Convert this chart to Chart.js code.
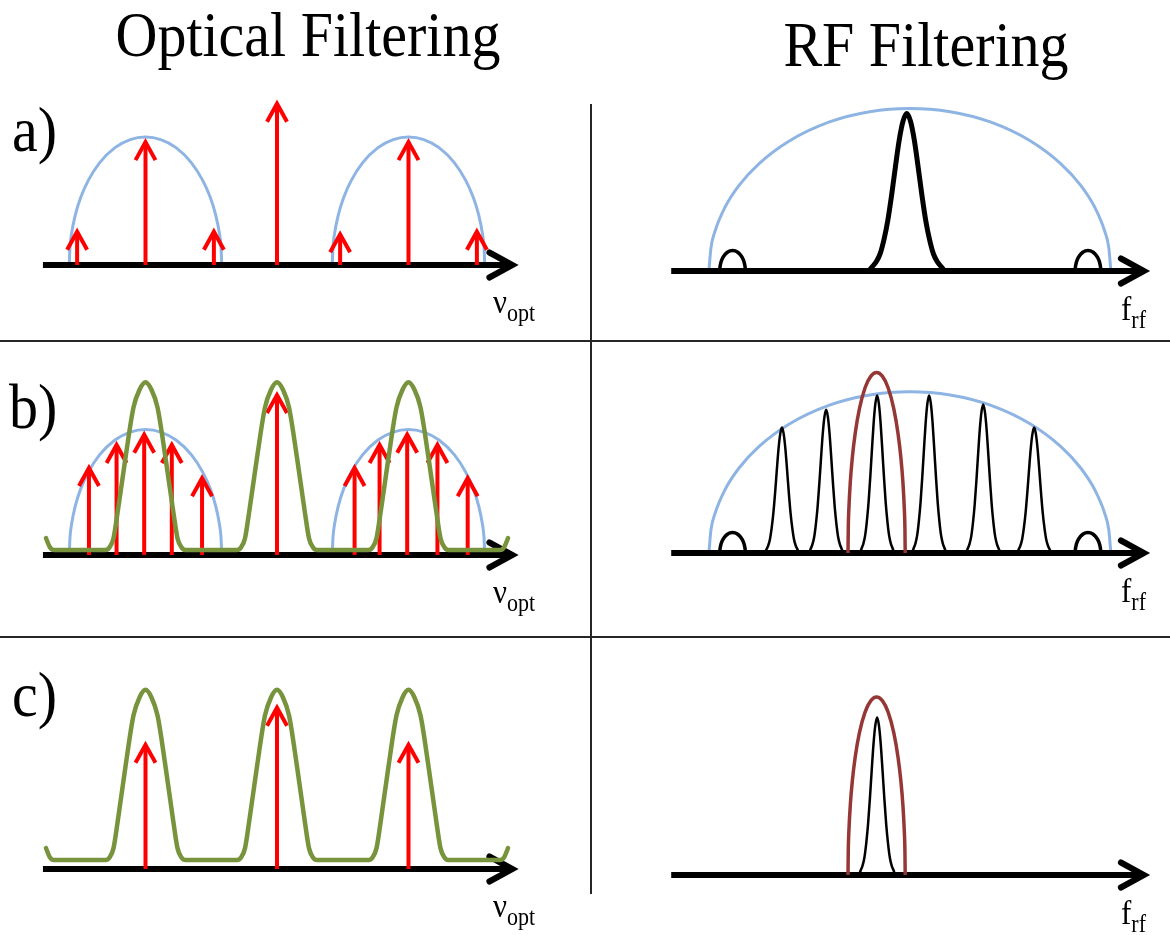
<!DOCTYPE html>
<html>
<head>
<meta charset="utf-8">
<script src="https://cdn.jsdelivr.net/npm/chart.js@4.4.1/dist/chart.umd.min.js"></script>
<style>
  html, body { margin: 0; padding: 0; background: #fff; }
  #wrap { position: relative; width: 1170px; height: 935px; overflow: hidden; }
  #fig { position: absolute; left: 0; top: 0; }
  .txt { position: absolute; font-family: "Liberation Serif", "Times New Roman", serif; color: #000; white-space: nowrap; }
  .rule { position: absolute; background: #262626; }
</style>
</head>
<body>
<div id="wrap">
  <canvas id="fig" width="1170" height="935"></canvas>
  <div class="rule" style="left:0;top:340px;width:1170px;height:2px"></div>
  <div class="rule" style="left:0;top:636px;width:1170px;height:2px"></div>
  <div class="rule" style="left:590px;top:104px;width:2px;height:790px"></div>
</div>
<script>
// ---------- optical side (detuning, 10 = one filter period) ----------
var optAxisRange = [-17.8, 17.9];
var envCentresOpt = [-10, 10];
var envHalfWidthOpt = 5.8;

// a) comb before filtering
var linesA = [-15.2, -10, -4.8, 0, 4.8, 10, 15.2];
var powerA = [26, 96, 26, 126, 24, 96, 26];
var envHeightA = 100;

// b) dense comb with the periodic optical filter on top
var linesB = [-14.3, -12.2, -10.1, -8, -5.7, 0, 5.9, 7.8, 9.9, 12.2, 14.5];
var powerB = [68, 86, 94, 86, 60, 125, 68, 86, 94, 86, 60];
var envHeightB = 98;
var filterCentres = [-20, -10, 0, 10, 20];
var filterHalfWidth = 3.04;
var filterBaseB = 4, filterPeakB = 131;

// c) lines left after the optical filter
var linesC = [-10, 0, 10];
var powerC = [97, 126, 97];
var filterBaseC = 7, filterPeakC = 133;

// ---------- RF side (beat frequency, arbitrary units) ----------
var rfAxisRange = [6, 96.9];
var rfEnvCentre = 51.9, rfEnvHalfWidth = 38.65;
var rfEnvHeight = [127, 126];
var lowBeats = [17.8, 86.15];
var lowBeatHeight = 16, lowBeatHalfWidth = 2.46;

var beatsA = [51.3], beatPowerA = [123], beatHalfWidthA = 7.3;
var beatsB = [27.3, 35.8, 45.6, 55.6, 66, 75.8];
var beatPowerB = [98, 112, 123, 123, 116, 98];
var beatHalfWidthB = 3.3;
var beatsC = [45.6], beatPowerC = [123], beatHalfWidthC = 3.5;

var rfFilterCentre = 45.5, rfFilterHalfWidth = 5.5;
var rfFilterHeight = [141, 139];

// ---------- line shapes (half profiles: offset / half width, height / peak) ----------
var archX = [0, 0.2, 0.4, 0.6, 0.75, 0.85, 0.92, 0.97, 0.99, 1];
var archY = [1, 0.98, 0.917, 0.8, 0.661, 0.527, 0.392, 0.243, 0.141, 0];
var filterX = [0, 0.15, 0.3, 0.5, 0.7, 0.8, 0.9, 1];
var filterY = [1, 0.955, 0.85, 0.55, 0.22, 0.07, 0.015, 0];
var beatX = [0, 0.1, 0.2, 0.3, 0.4, 0.5, 0.6, 0.7, 0.8, 0.9, 1];
var beatY = [1, 0.95, 0.83, 0.66, 0.48, 0.32, 0.2, 0.11, 0.06, 0.03, 0];

// ---------- page layout ----------
var W = 1170, H = 935;
var OPT_ZERO = 277, OPT_PX = 13.15;   // pixel of zero detuning, px per unit
var RF_ZERO = 640, RF_PX = 5.2;
var AMP_PX = 1.28;                    // px per amplitude unit
var rowsLeft = [265, 555, 869];       // baseline of each optical plot
var rowsRight = [271, 553, 875];

var BLUE = '#8eb4e3', RED = '#ff0000', GREEN = '#77933c', BROWN = '#953735', BLACK = '#000000';

function shape(px, py, centre, halfW, height, base) {
  base = base || 0;
  var pts = [];
  for (var i = px.length - 1; i > 0; i--) pts.push({ x: centre - px[i] * halfW, y: base + py[i] * height });
  for (var j = 0; j < px.length; j++) pts.push({ x: centre + px[j] * halfW, y: base + py[j] * height });
  return pts;
}

// periodic filter, cut to the span of the frequency axis
function filterCurve(base, peak) {
  var pts = [];
  filterCentres.forEach(function (c) {
    pts = pts.concat(shape(filterX, filterY, c, filterHalfWidth, peak, base));
  });
  return pts.filter(function (p) { return p.x >= optAxisRange[0] && p.x <= optAxisRange[1] - 0.05; });
}

var datasets = [];
function add(xId, yId, data, style) {
  datasets.push(Object.assign({
    xAxisID: xId, yAxisID: yId, data: data,
    pointRadius: 0, fill: false, borderJoinStyle: 'round', borderCapStyle: 'butt'
  }, style));
}

var envStyle = { borderColor: BLUE, borderWidth: 3, cubicInterpolationMode: 'monotone', order: 6 };
var axisStyle = { borderColor: BLACK, borderWidth: 6, order: 4, head: { len: 23, half: 12.5, cap: 'round' } };
var arrowStyle = { borderColor: RED, borderWidth: 4, order: 3, head: { len: 18, half: 10, cap: 'butt' } };
var greenStyle = { borderColor: GREEN, borderWidth: 4.5, cubicInterpolationMode: 'monotone', borderCapStyle: 'round', order: 2 };
var brownStyle = { borderColor: BROWN, borderWidth: 3.5, cubicInterpolationMode: 'monotone', order: 2 };

function combArrows(yId, lines, power) {
  lines.forEach(function (x, i) {
    add('xOpt', yId, [{ x: x, y: 0 }, { x: x, y: power[i] }], arrowStyle);
  });
}
function beats(yId, centres, power, halfW, width) {
  centres.forEach(function (c, i) {
    add('xRf', yId, shape(beatX, beatY, c, halfW, power[i]),
      { borderColor: BLACK, borderWidth: width, cubicInterpolationMode: 'monotone', order: 3 });
  });
}
function lowFreqBumps(yId) {
  lowBeats.forEach(function (c) {
    add('xRf', yId, shape(archX, archY, c, lowBeatHalfWidth, lowBeatHeight),
      { borderColor: BLACK, borderWidth: 3.5, cubicInterpolationMode: 'monotone', order: 3 });
  });
}
function optAxis(yId) {
  add('xOpt', yId, [{ x: optAxisRange[0], y: 0 }, { x: optAxisRange[1], y: 0 }], axisStyle);
}
function rfAxis(yId) {
  add('xRf', yId, [{ x: rfAxisRange[0], y: 0 }, { x: rfAxisRange[1], y: 0 }], axisStyle);
}

// a) optical
envCentresOpt.forEach(function (c) { add('xOpt', 'yA1', shape(archX, archY, c, envHalfWidthOpt, envHeightA), envStyle); });
optAxis('yA1');
combArrows('yA1', linesA, powerA);
// b) optical
envCentresOpt.forEach(function (c) { add('xOpt', 'yB1', shape(archX, archY, c, envHalfWidthOpt, envHeightB), envStyle); });
optAxis('yB1');
combArrows('yB1', linesB, powerB);
add('xOpt', 'yB1', filterCurve(filterBaseB, filterPeakB), greenStyle);
// c) optical
optAxis('yC1');
combArrows('yC1', linesC, powerC);
add('xOpt', 'yC1', filterCurve(filterBaseC, filterPeakC), greenStyle);

// a) RF
add('xRf', 'yA2', shape(archX, archY, rfEnvCentre, rfEnvHalfWidth, rfEnvHeight[0]), envStyle);
rfAxis('yA2');
beats('yA2', beatsA, beatPowerA, beatHalfWidthA, 5);
lowFreqBumps('yA2');
// b) RF
add('xRf', 'yB2', shape(archX, archY, rfEnvCentre, rfEnvHalfWidth, rfEnvHeight[1]), envStyle);
rfAxis('yB2');
beats('yB2', beatsB, beatPowerB, beatHalfWidthB, 2.5);
lowFreqBumps('yB2');
add('xRf', 'yB2', shape(archX, archY, rfFilterCentre, rfFilterHalfWidth, rfFilterHeight[0]), brownStyle);
// c) RF
rfAxis('yC2');
beats('yC2', beatsC, beatPowerC, beatHalfWidthC, 2.5);
add('xRf', 'yC2', shape(archX, archY, rfFilterCentre, rfFilterHalfWidth, rfFilterHeight[1]), brownStyle);

function xScale(zero, pxPer) {
  return { type: 'linear', axis: 'x', display: false, bounds: 'data', min: -zero / pxPer, max: (W - zero) / pxPer };
}
function yScale(row) {
  return { type: 'linear', axis: 'y', display: false, bounds: 'data', min: -(H - row) / AMP_PX, max: row / AMP_PX };
}

// chevron at the last point of any dataset carrying a `head`
var arrowHeads = {
  id: 'arrowHeads',
  afterDatasetDraw: function (chart, args) {
    var ds = chart.data.datasets[args.index];
    if (!ds.head) return;
    var pts = args.meta.data;
    var tip = pts[pts.length - 1], prev = pts[pts.length - 2];
    var a = Math.atan2(tip.y - prev.y, tip.x - prev.x);
    var cos = Math.cos(a), sin = Math.sin(a);
    var bx = tip.x - ds.head.len * cos, by = tip.y - ds.head.len * sin;
    var nx = -sin * ds.head.half, ny = cos * ds.head.half;
    var ctx = chart.ctx;
    ctx.save();
    ctx.strokeStyle = ds.borderColor;
    ctx.lineWidth = ds.borderWidth;
    ctx.lineCap = ds.head.cap;
    ctx.lineJoin = 'miter';
    ctx.beginPath();
    ctx.moveTo(bx + nx, by + ny);
    ctx.lineTo(tip.x, tip.y);
    ctx.lineTo(bx - nx, by - ny);
    ctx.stroke();
    ctx.restore();
  }
};

new Chart(document.getElementById('fig'), {
  type: 'line',
  data: { datasets: datasets },
  options: {
    responsive: false,
    animation: false,
    events: [],
    layout: { padding: 0 },
    plugins: { legend: { display: false }, tooltip: { enabled: false } },
    scales: {
      xOpt: xScale(OPT_ZERO, OPT_PX),
      xRf: xScale(RF_ZERO, RF_PX),
      yA1: yScale(rowsLeft[0]), yB1: yScale(rowsLeft[1]), yC1: yScale(rowsLeft[2]),
      yA2: yScale(rowsRight[0]), yB2: yScale(rowsRight[1]), yC2: yScale(rowsRight[2])
    }
  },
  plugins: [arrowHeads]
});

// ---------- text ----------
var STRETCH = 1.1;
function label(html, x, base, size, centred) {
  var d = document.createElement('div');
  d.className = 'txt';
  d.innerHTML = html;
  var asc = 0.8375 * size;
  d.style.fontSize = size + 'px';
  d.style.lineHeight = size + 'px';
  d.style.left = x + 'px';
  d.style.top = (base - asc) + 'px';
  d.style.transformOrigin = '0 ' + asc + 'px';
  d.style.transform = (centred ? 'translateX(-50%) ' : '') + 'scaleY(' + STRETCH + ')';
  document.getElementById('wrap').appendChild(d);
}
function sub(main, s) {
  return main + '<span style="font-size:22px;position:relative;top:7px">' + s + '</span>';
}

label('Optical Filtering', 308, 57, 58, true);
label('RF Filtering', 926, 67, 58, true);
label('a)', 12, 152, 58);
label('b)', 9, 429, 58);
label('c)', 12, 717, 58);
[313, 603, 917].forEach(function (b) { label(sub('\u03bd', 'opt'), 493, b, 31); });
[320, 602, 924].forEach(function (b) { label(sub('f', 'rf'), 1121, b, 31); });
</script>
</body>
</html>
